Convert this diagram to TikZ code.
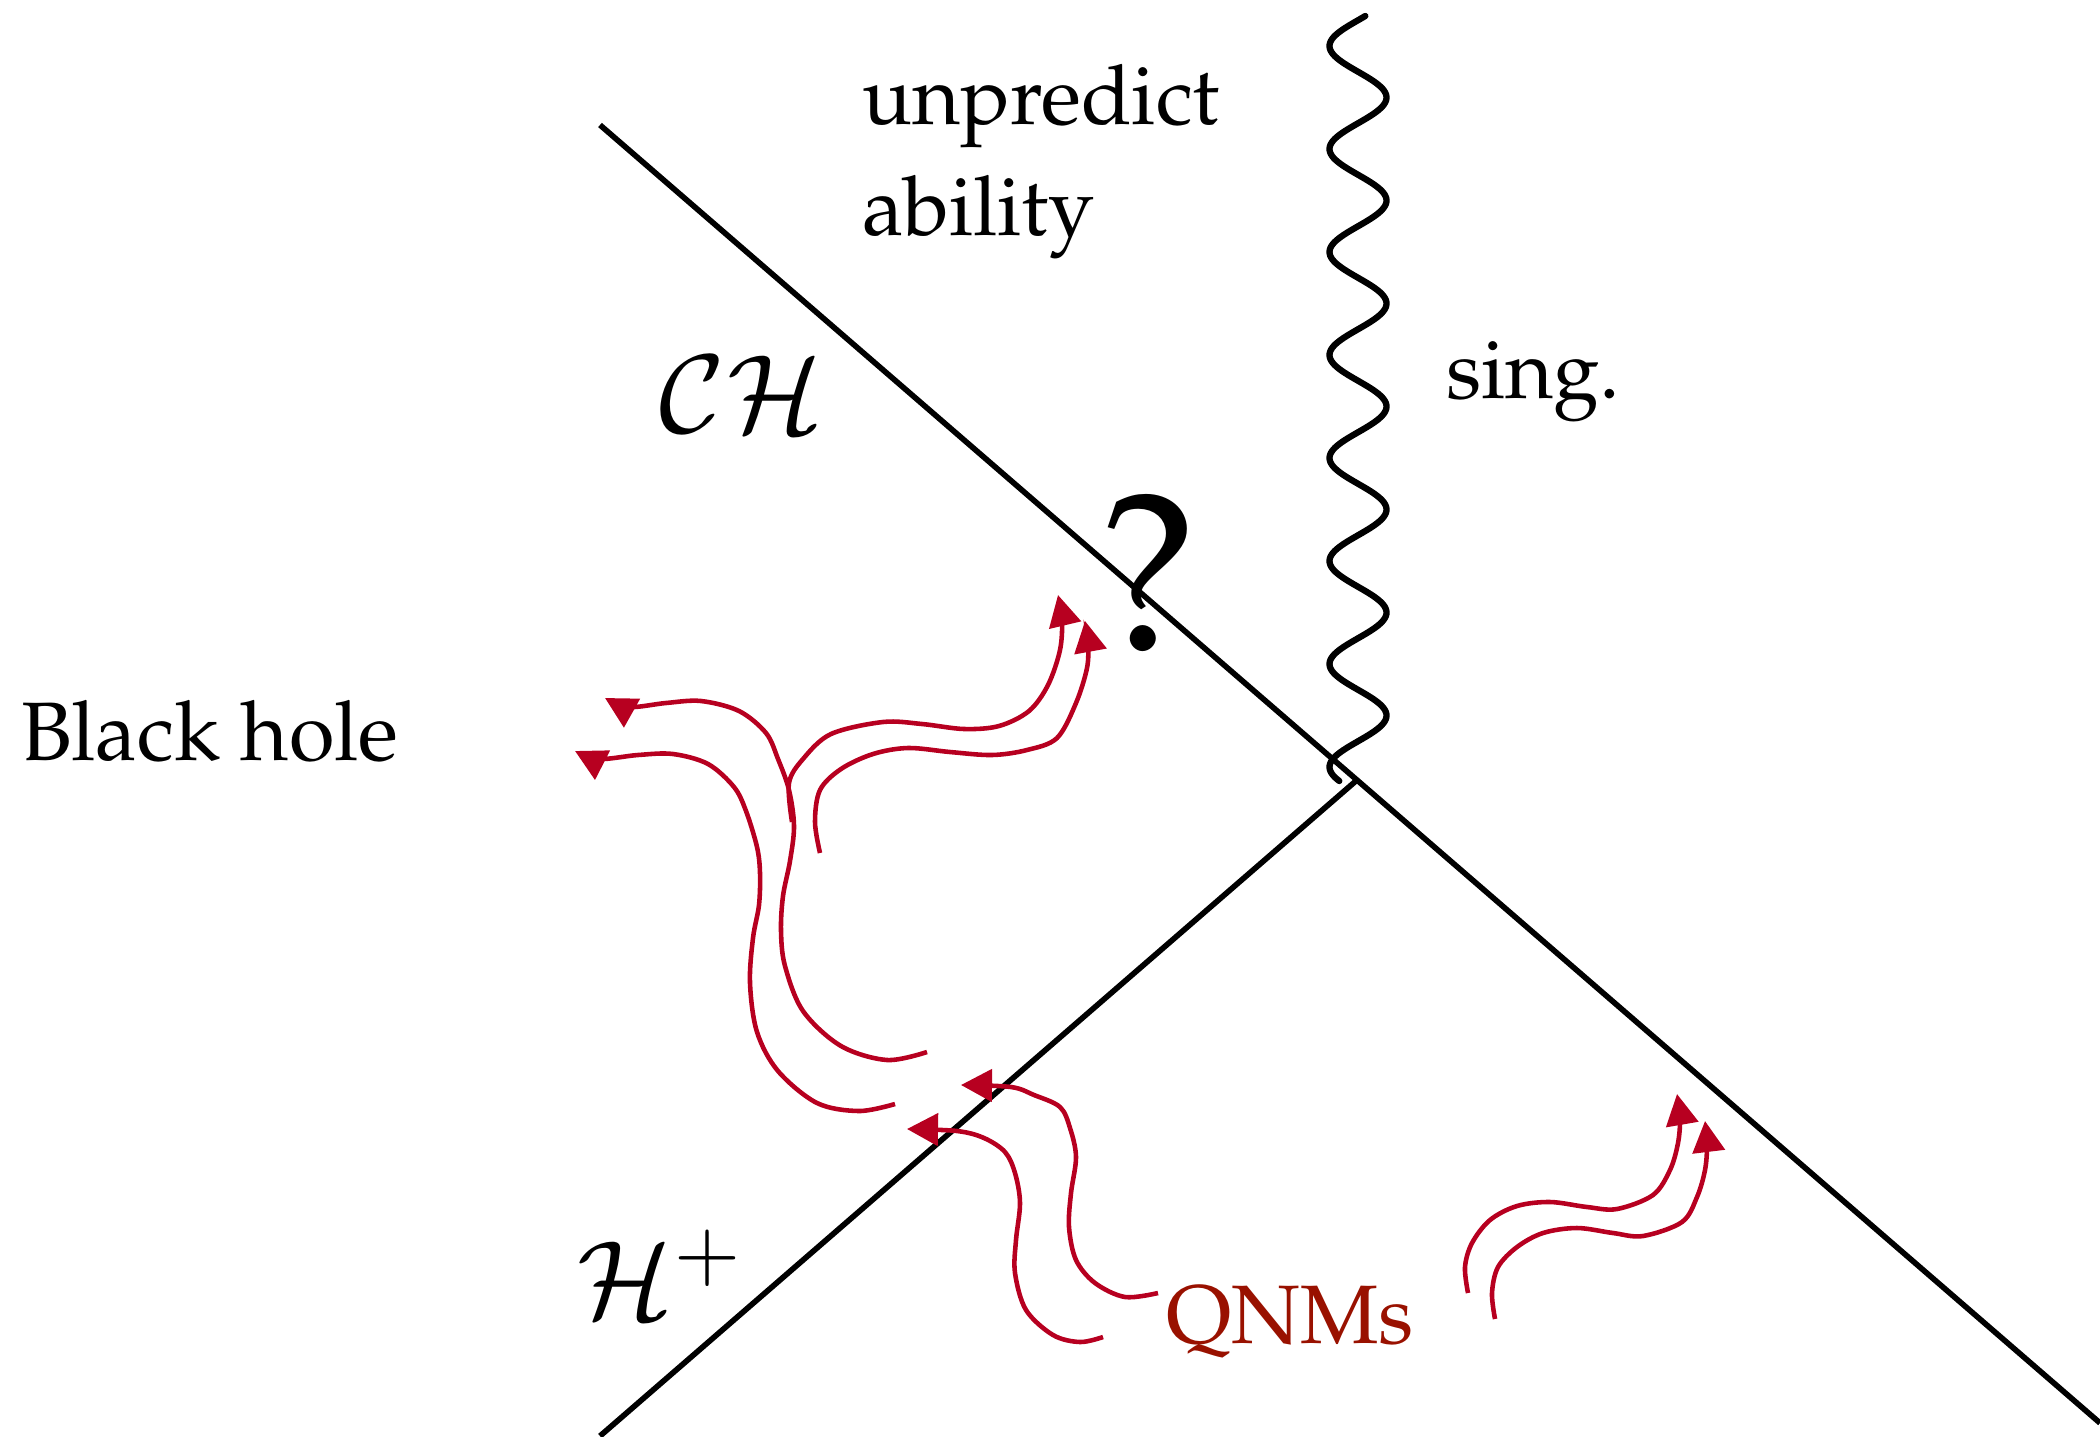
\documentclass[tikz,border=0pt]{standalone}
\usepackage[T1]{fontenc}
\usepackage{mathpazo}
\usetikzlibrary{arrows.meta}
\definecolor{wavered}{RGB}{183,0,32}
\definecolor{qnmred}{RGB}{153,17,0}
\tikzset{
  lbl/.style={inner sep=0pt, outer sep=0pt, font=\fontsize{23.6}{28}\selectfont},
  mlbl/.style={inner sep=0pt, outer sep=0pt, font=\fontsize{30.5}{34}\selectfont},
  horizon/.style={line width=1.6pt, black},
  qnm/.style={draw=wavered, line width=1.3pt, line cap=butt,
    -{Triangle[length=3.1mm,width=3.2mm]}},
}
\begin{document}
\begin{tikzpicture}[x=0.1mm,y=-0.1mm]
\useasboundingbox (0,0) rectangle (2100,1436);
% horizons
\coordinate (chtop) at (600,125);
\coordinate (chbot) at (2100,1423);
\coordinate (hbot) at (600,1436);
\coordinate (meet) at (1357,780);
\draw[horizon] (chtop) -- (chbot);
\draw[horizon] (hbot) -- (meet);
% singularity
\draw[line width=1.8pt, line cap=round]
  plot[variable=\t, domain=0:765, samples=400, smooth]
  ({1358 - 28.5*sin(3.4951*(\t-4.25))}, {16+\t});
% labels
\node[lbl, anchor=base west] (unp) at (862,124) {unpredict};
\node[lbl, anchor=base west] (abl) at (862,235) {ability};
\node[lbl, anchor=base west] (sing) at (1446,398) {sing.};
\node[lbl, anchor=base west] (bh) at (21,760) {Black hole};
\node[mlbl, anchor=base west] (ch) at (658,432) {$\mathcal{CH}$};
\node[mlbl, anchor=base west] (hp) at (576,1318) {$\mathcal{H}^+$};
\node[lbl, anchor=base west, text=qnmred] (qnms) at (1166,1343) {QNMs};
\node[inner sep=0pt, anchor=base, font=\fontsize{64}{64}\selectfont] (qm) at (1148,650) {?};
% QNM waves
\draw[qnm] plot[smooth, tension=0.55] coordinates {
 (927,1052) (887,1060) (841,1046) (803,1011) (785,966) (781,931)
 (783,896) (790,861) (794,826) (789,790) (778,759) (766,733)
 (739,711) (701,701) (666,703) (629,707) (605,698)};
\draw[qnm] plot[smooth, tension=0.55] coordinates {
 (895,1104) (859,1111) (817,1103) (778,1071) (757,1032) (750,983)
 (753,938) (759,905) (760,873) (757,847) (746,811) (734,787)
 (708,764) (673,754) (638,755) (599,759) (575,751)};
\draw[qnm] plot[smooth, tension=0.55] coordinates {
 (792,822) (789,783) (803,759) (831,734) (883,722) (922,724)
 (964,729) (999,726) (1029,711) (1048,685) (1060,650) (1062,619) (1058,595)};
\draw[qnm] plot[smooth, tension=0.55] coordinates {
 (820,853) (815,822) (820,790) (841,769) (873,754) (908,748)
 (950,752) (992,755) (1027,750) (1057,738) (1076,703) (1087,668) (1088,643) (1085,621)};
\draw[qnm] plot[smooth, tension=0.55] coordinates {
 (1158,1293) (1125,1297) (1095,1283) (1076,1260) (1069,1227) (1071,1193)
 (1076,1157) (1070,1128) (1060,1107) (1034,1095) (1011,1087) (961,1085)};
\draw[qnm] plot[smooth, tension=0.55] coordinates {
 (1103,1337) (1080,1342) (1053,1335) (1026,1310) (1015,1273) (1016,1240)
 (1020,1203) (1015,1173) (1005,1152) (984,1138) (957,1131) (907,1129)};
\draw[qnm] plot[smooth, tension=0.55] coordinates {
 (1468,1293) (1465,1267) (1472,1243) (1490,1220) (1517,1206) (1550,1202)
 (1587,1207) (1617,1209) (1653,1195) (1670,1170) (1678,1143) (1680,1118) (1677,1094)};
\draw[qnm] plot[smooth, tension=0.55] coordinates {
 (1495,1319) (1492,1293) (1498,1267) (1517,1247) (1543,1233) (1577,1228)
 (1613,1233) (1643,1236) (1682,1222) (1697,1197) (1705,1170) (1707,1145) (1705,1121)};
\end{tikzpicture}
\end{document}
